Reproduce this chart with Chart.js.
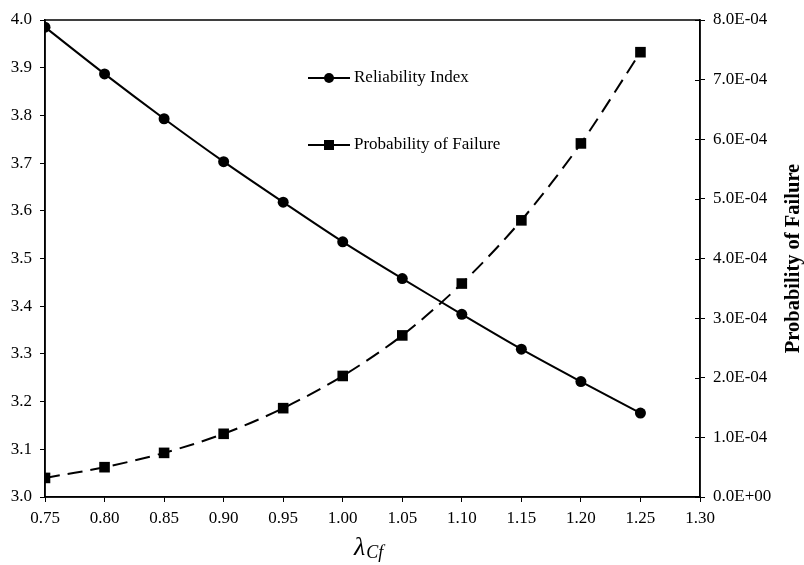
<!DOCTYPE html>
<html><head><meta charset="utf-8">
<script src="https://cdn.jsdelivr.net/npm/chart.js@4.4.0/dist/chart.umd.min.js"></script>
<style>html,body{margin:0;padding:0;background:#fff;}#wrap{width:804px;height:565px;}</style>
</head><body><div id="wrap"><canvas id="c" width="804" height="565"></canvas></div>
<script>
// ---- data ----
const lambdaCf = [0.75, 0.80, 0.85, 0.90, 0.95, 1.00, 1.05, 1.10, 1.15, 1.20, 1.25];
const reliabilityIndex = [3.985, 3.887, 3.793, 3.703, 3.618, 3.535, 3.458, 3.383, 3.310, 3.242, 3.176];
const probabilityOfFailure = [3.2e-5, 5.0e-5, 7.4e-5, 1.06e-4, 1.49e-4, 2.03e-4, 2.71e-4, 3.58e-4, 4.64e-4, 5.93e-4, 7.46e-4];
const seriesNames = ['Reliability Index', 'Probability of Failure'];
const xTickRange = {min: 0.75, max: 1.30, step: 0.05};
const yLeftRange = {min: 3.0, max: 4.0, step: 0.1};
const yRightRange = {min: 0, max: 8e-4, step: 1e-4};
const rightAxisTitle = 'Probability of Failure';
const xAxisTitleMain = 'λ';
const xAxisTitleSub = 'Cf';

const FONT = '"Liberation Serif", "Times New Roman", serif';

function sciLabel(v) {
  if (Math.abs(v) < 1e-12) return '0.0E+00';
  let e = Math.floor(Math.log10(Math.abs(v)) + 1e-9);
  let m = v / Math.pow(10, e);
  if (Math.round(m * 10) / 10 >= 10) { m /= 10; e += 1; }
  const sign = e < 0 ? '-' : '+';
  const ea = Math.abs(e);
  return m.toFixed(1) + 'E' + sign + (ea < 10 ? '0' + ea : ea);
}

const framePlugin = {
  id: 'frame',
  afterDraw(chart) {
    const {ctx, chartArea: a, scales} = chart;
    ctx.save();
    ctx.strokeStyle = '#000';
    ctx.lineWidth = 1.5;
    ctx.strokeRect(a.left, a.top, a.right - a.left, a.bottom - a.top);
    // inward half of the right axis ticks (they cross the axis)
    ctx.lineWidth = 1;
    const y2 = scales.y2;
    y2.ticks.forEach(t => {
      const py = Math.round(y2.getPixelForValue(t.value)) + 0.5;
      ctx.beginPath(); ctx.moveTo(a.right - 5, py); ctx.lineTo(a.right, py); ctx.stroke();
    });
    // right axis title, reading bottom to top
    ctx.fillStyle = '#000';
    ctx.font = 'bold 20.5px ' + FONT;
    ctx.textAlign = 'center';
    ctx.textBaseline = 'middle';
    ctx.translate(794, (a.top + a.bottom) / 2);
    ctx.rotate(-Math.PI / 2);
    ctx.fillText(rightAxisTitle, 0, 0);
    ctx.restore();
    // x axis title λ_Cf
    ctx.save();
    ctx.fillStyle = '#000';
    ctx.textBaseline = 'alphabetic';
    ctx.textAlign = 'left';
    ctx.font = 'italic 26px ' + FONT;
    const lx = 354, ly = 555;
    ctx.fillText(xAxisTitleMain, lx, ly);
    const w = ctx.measureText(xAxisTitleMain).width;
    ctx.font = 'italic 18px ' + FONT;
    ctx.fillText(xAxisTitleSub, lx + w + 1, ly + 3);
    ctx.restore();
    // legend
    ctx.save();
    const rows = [78, 145];
    chart.data.datasets.forEach((ds, i) => {
      const y = rows[i];
      ctx.strokeStyle = '#000';
      ctx.lineWidth = 2;
      ctx.setLineDash([]);
      ctx.beginPath(); ctx.moveTo(308, y); ctx.lineTo(350, y); ctx.stroke();
      ctx.fillStyle = '#000';
      if (ds.pointStyle === 'rect') {
        ctx.fillRect(329 - 5, y - 5, 10, 10);
      } else {
        ctx.beginPath(); ctx.arc(329, y, 5, 0, Math.PI * 2); ctx.fill();
      }
      ctx.font = '17px ' + FONT;
      ctx.textAlign = 'left';
      ctx.textBaseline = 'middle';
      ctx.fillText(ds.label, 354, y);
    });
    ctx.restore();
  }
};

new Chart(document.getElementById('c'), {
  type: 'line',
  data: {
    datasets: [
      {
        label: seriesNames[0],
        data: lambdaCf.map((x, i) => ({x, y: reliabilityIndex[i]})),
        yAxisID: 'y',
        borderColor: '#000', backgroundColor: '#000',
        borderWidth: 2, tension: 0.3,
        pointStyle: 'circle', pointRadius: 5.5, pointBorderWidth: 0
      },
      {
        label: seriesNames[1],
        data: lambdaCf.map((x, i) => ({x, y: probabilityOfFailure[i]})),
        yAxisID: 'y2',
        borderColor: '#000', backgroundColor: '#000',
        borderWidth: 2, tension: 0.3, borderDash: [15, 8],
        pointStyle: 'rect', pointRadius: 7.5, pointBorderWidth: 0
      }
    ]
  },
  options: {
    responsive: false,
    animation: false,
    devicePixelRatio: 1,
    layout: {padding: {top: 20, left: 0, right: 0, bottom: 0}},
    plugins: {legend: {display: false}, tooltip: {enabled: false}},
    scales: {
      x: {
        type: 'linear', min: xTickRange.min, max: xTickRange.max,
        afterFit(s) { s.height = 68; },
        afterBuildTicks(s) {
          const t = [];
          for (let v = xTickRange.min; v <= xTickRange.max + 1e-9; v += xTickRange.step) t.push({value: Math.round(v * 100) / 100});
          s.ticks = t;
        },
        ticks: {color: '#000', font: {family: FONT, size: 17}, padding: 6, maxRotation: 0, autoSkip: false,
          callback: v => Number(v).toFixed(2)},
        grid: {display: true, drawOnChartArea: false, drawTicks: true, tickLength: 5, color: '#000', lineWidth: 1},
        border: {display: true, color: '#000', width: 1.5}
      },
      y: {
        type: 'linear', position: 'left', min: yLeftRange.min, max: yLeftRange.max,
        afterFit(s) { s.width = 45; },
        ticks: {stepSize: yLeftRange.step, color: '#000', font: {family: FONT, size: 17}, padding: 8,
          callback: v => Number(v).toFixed(1)},
        grid: {display: true, drawOnChartArea: false, drawTicks: true, tickLength: 5, color: '#000', lineWidth: 1},
        border: {display: true, color: '#000', width: 1.5}
      },
      y2: {
        type: 'linear', position: 'right', min: yRightRange.min, max: yRightRange.max,
        afterFit(s) { s.width = 104; },
        ticks: {stepSize: yRightRange.step, color: '#000', font: {family: FONT, size: 17}, padding: 8,
          callback: v => sciLabel(v)},
        grid: {display: true, drawOnChartArea: false, drawTicks: true, tickLength: 5, color: '#000', lineWidth: 1},
        border: {display: true, color: '#000', width: 1.5}
      }
    }
  },
  plugins: [framePlugin]
});
</script>
</body></html>
